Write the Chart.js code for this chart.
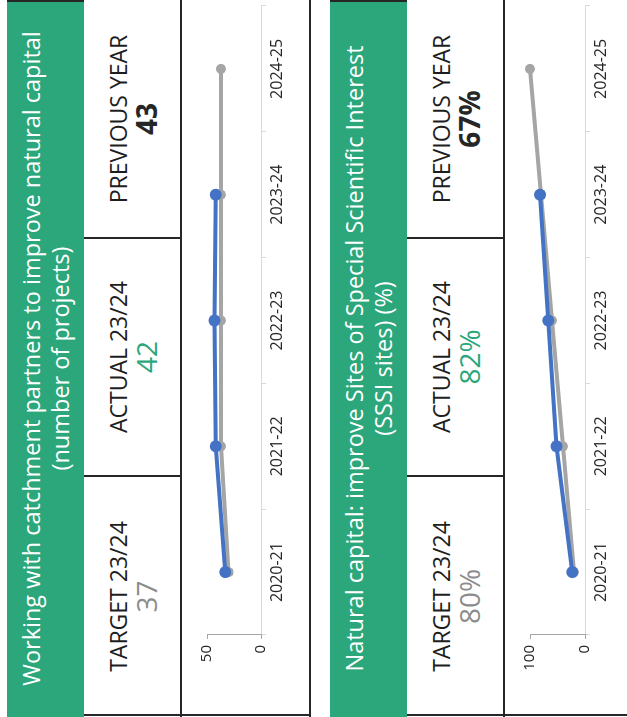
<!DOCTYPE html>
<html>
<head>
<meta charset="utf-8">
<script src="https://cdn.jsdelivr.net/npm/chart.js@4.4.1/dist/chart.umd.min.js"></script>
<style>
  html, body { margin: 0; padding: 0; background: #fff; }
  body { width: 627px; height: 717px; overflow: hidden; position: relative; font-family: "Open Sans", sans-serif; }
  /* the scorecard is laid out flat, then turned on its side */
  #sheet { position: absolute; left: 0; top: 0; width: 717px; height: 627px; overflow: hidden;
           transform-origin: 0 0; transform: translateY(717px) rotate(-90deg); }
  .kpi { position: absolute; left: 0; width: 717px; height: 310px; }
  .kpi-title { position: absolute; left: 0; top: 0; width: 717px; height: 77px; background: #2ca77b; color: #fff;
               font-weight: 400; font-size: 23.5px; line-height: 29px; text-align: center;
               display: flex; flex-direction: column; justify-content: center; }
  .cell { position: absolute; top: 77px; height: 96px; display: flex; flex-direction: column;
          align-items: center; justify-content: center; color: #1e1e1e; }
  .cell .lbl { font-size: 23px; line-height: 28px; font-weight: 400; }
  .cell .val { font-size: 28px; line-height: 28px; }
  .rule { position: absolute; background: #262626; }
  .kpi canvas { position: absolute; left: 0; top: 174px; }
</style>
</head>
<body>
<div id="sheet"></div>
<script>
const seasons = ['2020-21', '2021-22', '2022-23', '2023-24', '2024-25'];

const partnersActual = [33, 42, 43, 42, null];
const partnersTarget = [30, 37, 37, 37, 37];
const partnersScale = [0, 50];

const sssiActual = [23, 52, 67, 82, null];
const sssiTarget = [20, 40, 60, 80, 100];
const sssiScale = [0, 100];

const cellLabels = ['TARGET 23/24', 'ACTUAL 23/24', 'PREVIOUS YEAR'];
const partnersFigures = ['37', '42', '43'];
const sssiFigures = ['80%', '82%', '67%'];

const GREEN = '#2ca77b';
const BLUE = '#4472c4';
const GREY = '#a5a5a5';
const INK = '#262626';

const sheet = document.getElementById('sheet');

const rule = (parent, x, y, w, h) => {
  const d = document.createElement('div');
  d.className = 'rule';
  d.style.cssText = `left:${x}px;top:${y}px;width:${w}px;height:${h}px`;
  parent.appendChild(d);
};

const buildKpi = (top, titleLines, figures, actual, target, scale, plotBottom) => {
  const box = document.createElement('div');
  box.className = 'kpi';
  box.style.top = top + 'px';

  const title = document.createElement('div');
  title.className = 'kpi-title';
  title.innerHTML = titleLines.map(t => `<div>${t}</div>`).join('');
  box.appendChild(title);

  // target / actual / previous year boxes
  const edges = [0, 241, 479, 717];
  const figColours = ['#8c8c8c', GREEN, INK];
  cellLabels.forEach((label, i) => {
    const c = document.createElement('div');
    c.className = 'cell';
    c.style.left = edges[i] + 'px';
    c.style.width = (edges[i + 1] - edges[i]) + 'px';
    c.innerHTML = `<div class="lbl">${label}</div>
      <div class="val" style="color:${figColours[i]};font-weight:${i == 2 ? 700 : 400}">${figures[i]}</div>`;
    box.appendChild(c);
  });

  rule(box, 0, 173, 717, 2);
  rule(box, 0, 302, 717, 2);
  rule(box, 240, 77, 2, 97);
  rule(box, 478, 77, 2, 97);
  rule(box, 1, 77, 2, 227);
  rule(box, 715, 0, 2, 77);

  const canvas = document.createElement('canvas');
  canvas.width = 717;
  canvas.height = 129;
  box.appendChild(canvas);
  sheet.appendChild(box);

  new Chart(canvas, {
    type: 'line',
    data: {
      labels: seasons,
      datasets: [{
        label: 'Actual',
        data: actual,
        borderColor: BLUE,
        backgroundColor: BLUE,
        borderWidth: 4,
        pointRadius: 6,
        pointBorderWidth: 0,
        tension: 0,
        clip: false
      }, {
        label: 'Target',
        data: target,
        borderColor: GREY,
        backgroundColor: GREY,
        borderWidth: 4,
        pointRadius: 5,
        pointBorderWidth: 0,
        tension: 0,
        clip: false
      }]
    },
    options: {
      responsive: false,
      animation: false,
      events: [],
      layout: { padding: { top: 26, right: 2, left: 0, bottom: 0 } },
      plugins: { legend: { display: false }, tooltip: { enabled: false } },
      scales: {
        x: {
          offset: true,
          afterFit: s => { s.height = 129 - plotBottom; },
          grid: { offset: true, drawOnChartArea: false, tickLength: 5, color: '#d9d9d9' },
          border: { color: '#d9d9d9' },
          ticks: { padding: 2, maxRotation: 0, autoSkip: false, color: INK,
                   font: { family: "'Open Sans', sans-serif", size: 16 } }
        },
        y: {
          min: scale[0],
          max: scale[1],
          afterFit: s => { s.width = 82; },
          grid: { drawOnChartArea: false, tickLength: 4, color: '#a6a6a6' },
          border: { color: '#a6a6a6' },
          ticks: { stepSize: scale[1] - scale[0], padding: 6, color: INK,
                   font: { family: "'Open Sans', sans-serif", size: 15 } }
        }
      }
    }
  });
};

buildKpi(7, ['Working with catchment partners to improve natural capital', '(number of projects)'],
  partnersFigures, partnersActual, partnersTarget, partnersScale, 80);
buildKpi(330, ['Natural capital: improve Sites of Special Scientific Interest', '(SSSI sites) (%)'],
  sssiFigures, sssiActual, sssiTarget, sssiScale, 81);
</script>
</body>
</html>
